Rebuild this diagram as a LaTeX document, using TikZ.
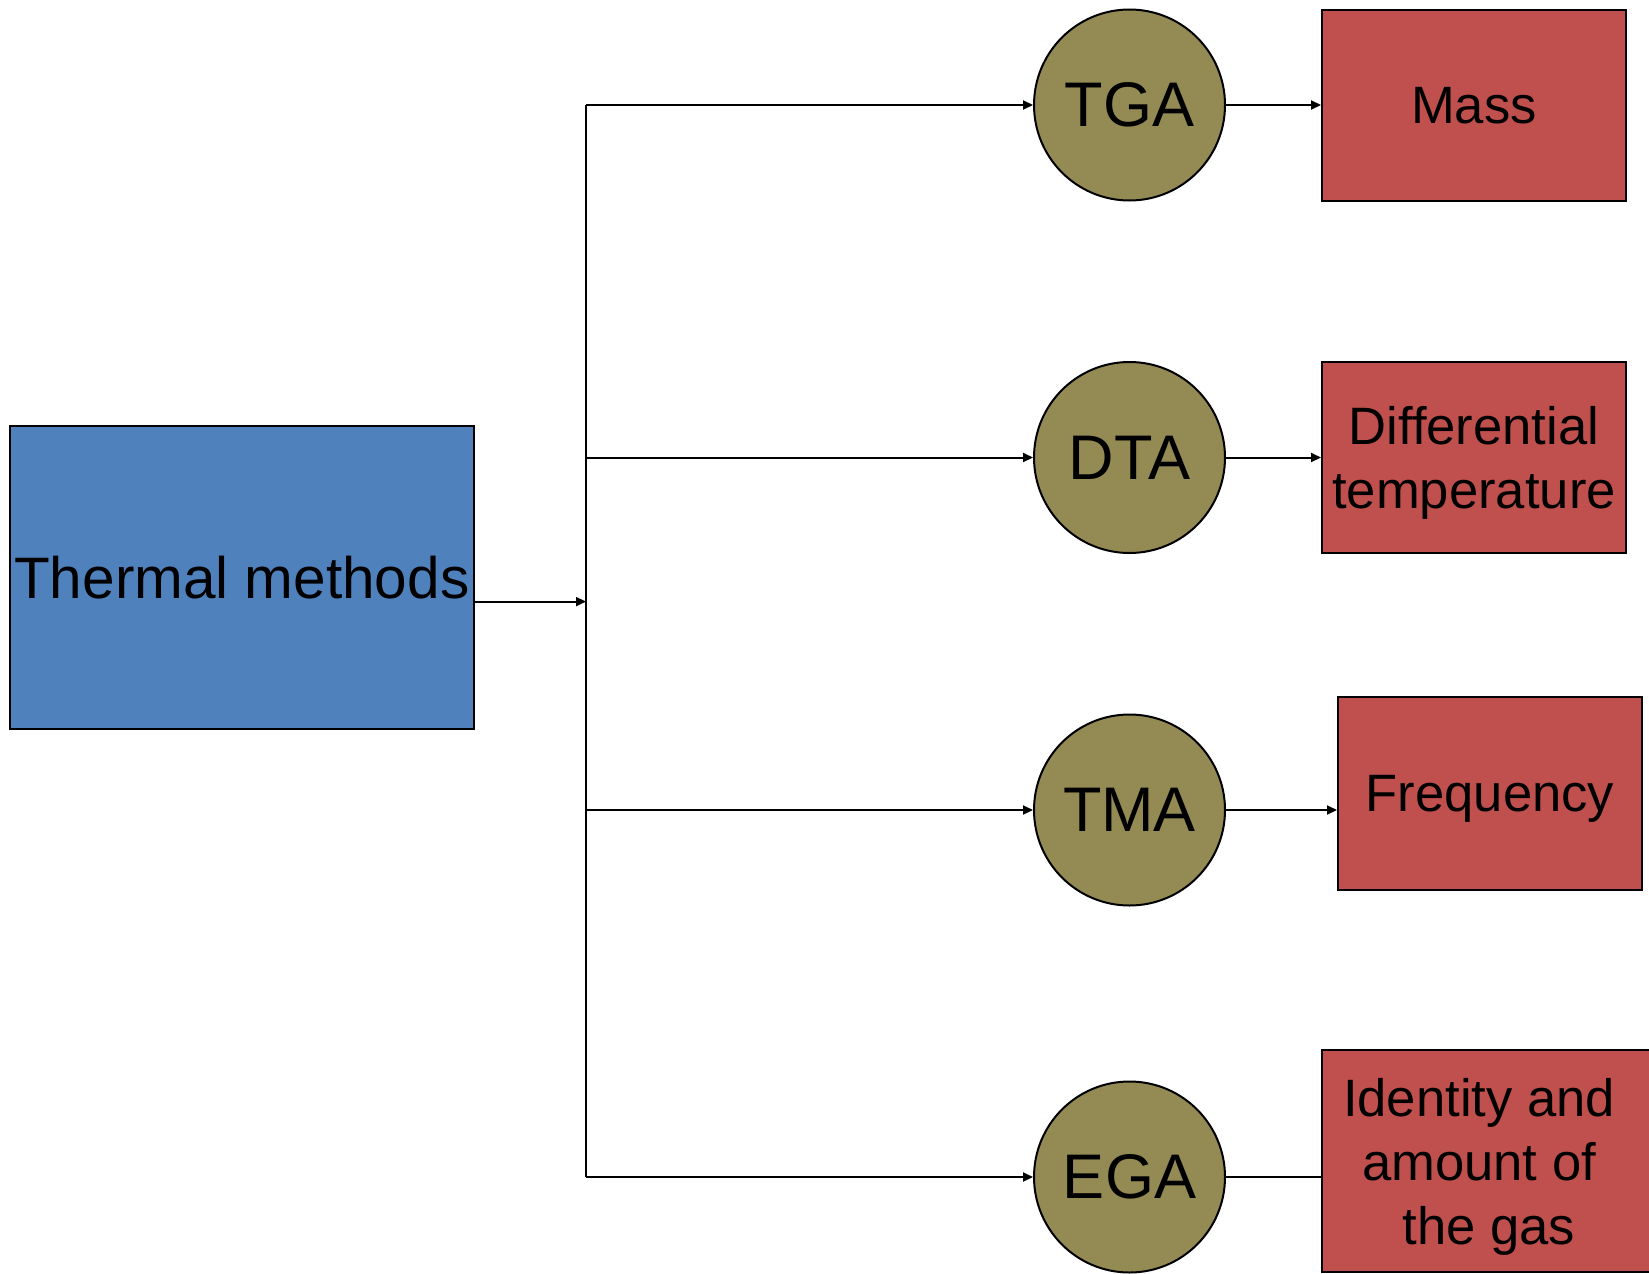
\documentclass[tikz,border=0pt]{standalone}
\usepackage{fontspec}
\setmainfont{Liberation Sans}
\usetikzlibrary{arrows.meta}
\definecolor{methodblue}{HTML}{4F81BD}
\definecolor{techolive}{HTML}{948A54}
\definecolor{propred}{HTML}{C0504D}

\begin{document}
\begin{tikzpicture}[x=0.5pt,y=-0.5pt,
  methodbox/.style={draw=black,line width=1pt,fill=methodblue,inner sep=0pt,
    minimum width=232pt,minimum height=151.5pt,font=\fontsize{29.25}{35}\selectfont},
  techcircle/.style={circle,draw=black,line width=1pt,fill=techolive,inner sep=0pt,
    minimum size=95.5pt,font=\fontsize{31.5}{36}\selectfont},
  propbox/.style={draw=black,line width=1pt,fill=propred,inner sep=0pt,align=center,
    text depth=0pt,minimum width=152pt,minimum height=95.5pt,
    font=\fontsize{26.3}{32}\selectfont},
  link/.style={line width=1pt,-{Triangle[length=5pt,width=4.5pt]}},
  plain/.style={line width=1pt}]

\clip (0,0) rectangle (1649,1274);

% left box
\node[methodbox] (thermal) at (241.8,577.5) {Thermal methods};
\coordinate (junction) at (586,601.6);

% techniques
\node[techcircle] (tga) at (1129.5,105) {TGA};
\node[techcircle] (dta) at (1129.5,457.5) {DTA};
\node[techcircle] (tma) at (1129.5,810) {TMA};
\node[techcircle] (ega) at (1129.5,1177) {EGA};

% measured properties
\node[propbox] (mass) at (1474,105.7) {Mass};
\node[propbox] (diff) at (1474,457.5) {Differential\\temperature};
\node[propbox,minimum height=96.5pt] (freq) at (1490,793.5) {Frequency};
\node[propbox,minimum width=167pt,minimum height=111pt]
  (gas) at (1489,1161) {\hspace*{-10pt}Identity and\\\hspace*{-10pt}amount of\\the gas};

% connectors
\draw[link] (thermal.east |- junction) -- (junction);
\draw[plain] (junction |- tga) -- (junction |- ega);
\draw[link] (junction |- tga) -- (tga);
\draw[link] (junction |- dta) -- (dta);
\draw[link] (junction |- tma) -- (tma);
\draw[link] (junction |- ega) -- (ega);

\draw[link] (tga.east) -- (tga.east -| mass.west);
\draw[link] (dta.east) -- (dta.east -| diff.west);
\draw[link] (tma.east) -- (tma.east -| freq.west);
\draw[plain] (ega.east) -- (ega.east -| gas.west);

\end{tikzpicture}
\end{document}
